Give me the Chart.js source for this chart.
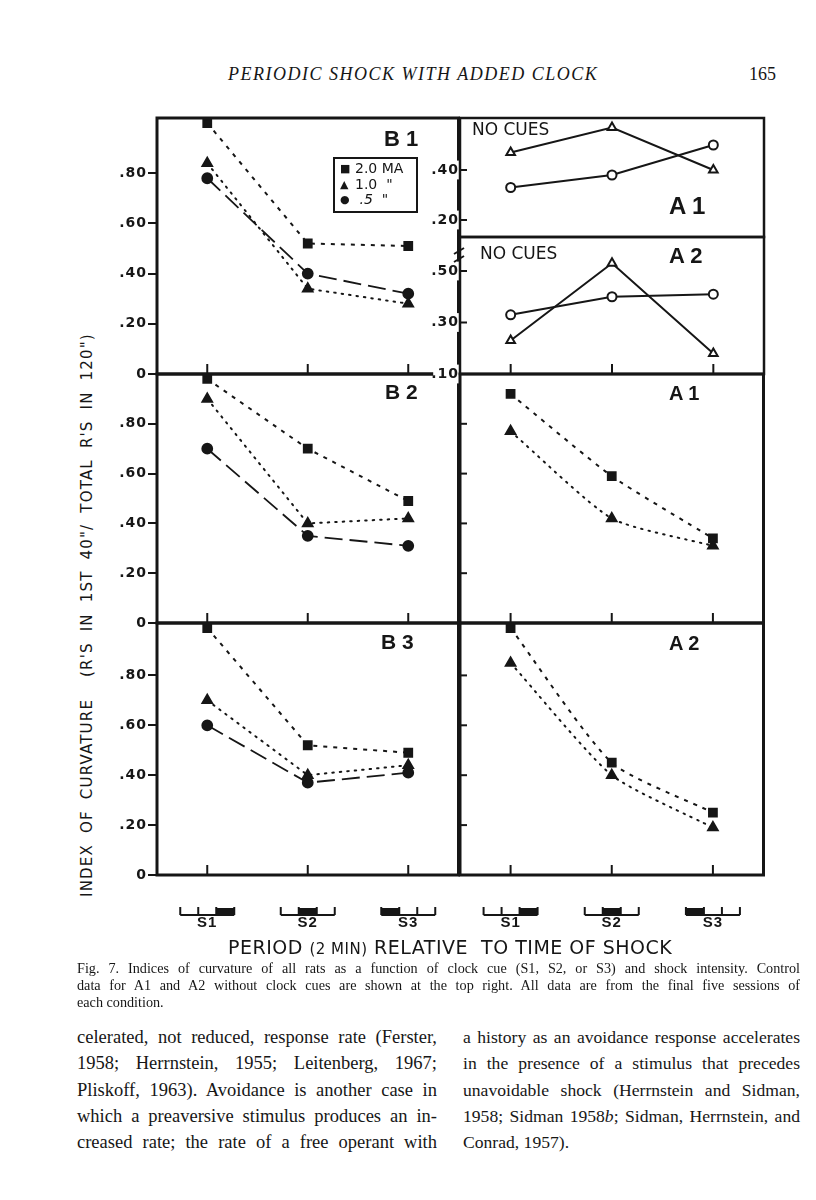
<!DOCTYPE html>
<html>
<head>
<meta charset="utf-8">
<script src="https://cdn.jsdelivr.net/npm/chart.js@4.4.1/dist/chart.umd.min.js"></script>
<style>
  body { margin: 0; width: 816px; height: 1200px; background: #fff; position: relative; overflow: hidden; color: #161616; font-family: 'Liberation Serif', serif; }
  .abs { position: absolute; white-space: nowrap; }
  .pc { position: absolute; }
  .plabel { position: absolute; font-family: 'Liberation Sans', sans-serif; font-weight: bold; line-height: 1; white-space: pre; }
  .nocue { position: absolute; font-family: 'DejaVu Sans', sans-serif; font-size: 17px; line-height: 1; }
  .jl { position: relative; text-align: justify; text-align-last: justify; white-space: nowrap; }
  .jl.last { text-align-last: left; }
  #legend { position: absolute; left: 333px; top: 157px; width: 76px; height: 50px; border: 2px solid #161616;
            font-family: 'DejaVu Sans', sans-serif; font-size: 14px; line-height: 15.5px; padding: 2px 0 0 5px; box-sizing: content-box; }
  #legend div { height: 15.5px; }
  #legend span.s { display: inline-block; width: 15px; font-size: 11px; line-height: 15.5px; vertical-align: top; }
</style>
</head>
<body>

<div class="abs" style="left:228px;top:64px;font-style:italic;font-size:18px;letter-spacing:1.5px">PERIODIC SHOCK WITH ADDED CLOCK</div>
<div class="abs" style="left:749px;top:64px;font-size:18px">165</div>

<script>
const INK = '#161616';

// data
const periods = ['S1', 'S2', 'S3'];
const leftTicks = [0, 0.2, 0.4, 0.6, 0.8];
const cueTicks = [0.2, 0.4, 0.6, 0.8];
const noCueTopTicks = [0.2, 0.4];
const noCueBottomTicks = [0.1, 0.3, 0.5];

// B1, B2, B3 : 2.0 mA (squares), 1.0 mA (triangles), .5 mA (circles)
const b1Ma20 = [1.00, 0.52, 0.51];
const b1Ma10 = [0.84, 0.34, 0.28];
const b1Ma05 = [0.78, 0.40, 0.32];
const b2Ma20 = [0.98, 0.70, 0.49];
const b2Ma10 = [0.90, 0.40, 0.42];
const b2Ma05 = [0.70, 0.35, 0.31];
const b3Ma20 = [0.99, 0.52, 0.49];
const b3Ma10 = [0.70, 0.40, 0.44];
const b3Ma05 = [0.60, 0.37, 0.41];

// A1, A2 with clock cues
const a1Ma20 = [0.92, 0.59, 0.34];
const a1Ma10 = [0.77, 0.42, 0.31];
const a2Ma20 = [0.99, 0.45, 0.25];
const a2Ma10 = [0.85, 0.40, 0.19];

// A1, A2 with no cues (open symbols)
const a1NoCueTri = [0.47, 0.57, 0.40];
const a1NoCueCirc = [0.33, 0.38, 0.50];
const a2NoCueTri = [0.23, 0.53, 0.18];
const a2NoCueCirc = [0.33, 0.40, 0.41];

function fmtTick(v) {
  if (v === 0) return '0';
  return '.' + String(Math.round(v * 100)).padStart(2, '0');
}

function sq(data, tension) {
  return { data, pointStyle: 'rect', pointRadius: 5.5, pointBackgroundColor: INK, pointBorderColor: INK,
    borderColor: INK, borderWidth: 2, borderDash: [4, 6], tension: tension || 0, clip: false };
}
function tri(data, tension) {
  return { data, pointStyle: 'triangle', pointRadius: 5.5, pointBackgroundColor: INK, pointBorderColor: INK,
    borderColor: INK, borderWidth: 2, borderDash: [1.5, 6], borderCapStyle: 'round', tension: tension || 0, clip: false };
}
function circ(data) {
  return { data, pointStyle: 'circle', pointRadius: 5, pointBackgroundColor: INK, pointBorderColor: INK,
    borderColor: INK, borderWidth: 1.8, borderDash: [18, 7], clip: false };
}
function openTri(data) {
  return { data, pointStyle: 'triangle', pointRadius: 5, pointBackgroundColor: '#fff', pointBorderColor: INK,
    pointBorderWidth: 2, borderColor: INK, borderWidth: 2, clip: false };
}
function openCirc(data) {
  return { data, pointStyle: 'circle', pointRadius: 4.5, pointBackgroundColor: '#fff', pointBorderColor: INK,
    pointBorderWidth: 2, borderColor: INK, borderWidth: 2, clip: false };
}

// frame, inward ticks, axis break and the little period diagrams under the x axis
const framePlugin = {
  id: 'frame',
  beforeDraw(chart) {
    chart.ctx.letterSpacing = '1px';   // tick labels are spaced out in the print
  },
  afterDraw(chart, args, opts) {
    const { ctx, chartArea: a, scales } = chart;
    const line = (x1, y1, x2, y2) => { ctx.beginPath(); ctx.moveTo(x1, y1); ctx.lineTo(x2, y2); ctx.stroke(); };
    ctx.save();
    ctx.strokeStyle = INK;
    ctx.fillStyle = INK;
    ctx.lineWidth = opts.lw || 3;
    ctx.strokeRect(a.left, a.top, a.right - a.left, a.bottom - a.top);
    ctx.lineWidth = 2;
    if (opts.xTicks) {
      periods.forEach((p, i) => {
        const x = scales.x.getPixelForValue(i);
        line(x, a.bottom, x, a.bottom - 10);
      });
    }
    if (opts.yIn) {
      opts.yIn.forEach(v => {
        const y = scales.y.getPixelForValue(v);
        line(a.left, y, a.left + 7, y);
      });
    }
    if (opts.brk) {
      line(a.left - 6, a.top + 17, a.left + 4, a.top + 11);
      line(a.left - 6, a.top + 25, a.left + 4, a.top + 19);
    }
    if (opts.glyph) {
      periods.forEach((p, i) => {
        const cx = scales.x.getPixelForValue(i);
        const y0 = a.bottom + 40, half = 27, seg = 18;
        line(cx - half, y0, cx + half, y0);
        for (let k = 0; k < 4; k++) line(cx - half + k * seg, y0, cx - half + k * seg, y0 - 8);
        const s = 2 - i;
        ctx.fillRect(cx - half + s * seg, y0 - 7, seg, 7);
      });
    }
    ctx.restore();
  }
};

function makePanel(p) {
  const left = p.side === 'left';
  const yw = left ? 48 : 34;
  const padT = 10, padR = 6;
  const padB = p.bottomAxis ? 0 : 10;
  const xh = p.bottomAxis ? 62 : 0;
  const [L, T, W, H] = p.rect;
  const w = W + yw + padR, h = H + padT + padB + xh;
  const div = document.createElement('div');
  div.className = 'pc';
  div.style.left = (L - yw) + 'px';
  div.style.top = (T - padT) + 'px';
  const c = document.createElement('canvas');
  c.width = w; c.height = h;
  c.style.width = w + 'px'; c.style.height = h + 'px';
  div.appendChild(c);
  document.body.appendChild(div);

  new Chart(c, {
    type: 'line',
    data: { labels: periods, datasets: p.datasets },
    options: {
      responsive: false,
      animation: false,
      layout: { padding: { top: padT, right: padR, bottom: padB, left: 0 } },
      plugins: {
        legend: { display: false },
        tooltip: { enabled: false },
        frame: p.frame
      },
      scales: {
        x: {
          type: 'category',
          offset: true,
          display: !!p.bottomAxis,
          grid: { display: false, drawTicks: false },
          border: { display: false },
          ticks: { padding: 39, color: INK, maxRotation: 0, font: { family: 'Liberation Sans', weight: 'bold', size: 15 } },
          afterFit(s) { s.height = xh; }
        },
        y: {
          min: p.min,
          max: p.max,
          position: 'left',
          afterFit(s) { s.width = yw; },
          afterBuildTicks(s) { s.ticks = p.ticks.map(v => ({ value: v })); },
          border: { display: false },
          grid: left
            ? { display: true, drawOnChartArea: false, drawTicks: true, tickLength: 9, lineWidth: 2, color: INK }
            : { display: false, drawTicks: false },
          ticks: {
            display: p.labels !== false,
            callback: fmtTick,
            color: INK,
            padding: 1,
            showLabelBackdrop: !left,
            backdropColor: '#fff',
            backdropPadding: 1,
            font: { family: 'DejaVu Sans', weight: 'bold', size: 14 }
          }
        }
      }
    },
    plugins: [framePlugin]
  });
}

// rects: [left, top, width, height] of each plotting box on the page
makePanel({ side: 'left', rect: [157, 118, 303, 256], min: 0, max: 1.02, ticks: leftTicks,
  datasets: [sq(b1Ma20), tri(b1Ma10), circ(b1Ma05)], frame: { xTicks: true } });
makePanel({ side: 'left', rect: [157, 374, 303, 249], min: 0, max: 1.0, ticks: leftTicks,
  datasets: [sq(b2Ma20), tri(b2Ma10), circ(b2Ma05)], frame: { xTicks: true } });
makePanel({ side: 'left', rect: [157, 623, 303, 252], min: 0, max: 1.01, ticks: leftTicks, bottomAxis: true,
  datasets: [sq(b3Ma20), tri(b3Ma10), circ(b3Ma05)], frame: { xTicks: true, glyph: true } });

makePanel({ side: 'right', rect: [460, 118, 305, 119], min: 0.132, max: 0.608, ticks: noCueTopTicks,
  datasets: [openTri(a1NoCueTri), openCirc(a1NoCueCirc)], frame: { lw: 2.5, yIn: noCueTopTicks } });
makePanel({ side: 'right', rect: [460, 237, 305, 137], min: 0.1, max: 0.632, ticks: noCueBottomTicks,
  datasets: [openTri(a2NoCueTri), openCirc(a2NoCueCirc)], frame: { lw: 2.5, yIn: [0.3, 0.5], xTicks: true, brk: true } });
makePanel({ side: 'right', rect: [460, 374, 305, 249], min: 0, max: 1.0, ticks: cueTicks, labels: false,
  datasets: [sq(a1Ma20, 0.2), tri(a1Ma10, 0.2)], frame: { xTicks: true, yIn: cueTicks } });
makePanel({ side: 'right', rect: [460, 623, 305, 252], min: 0, max: 1.01, ticks: cueTicks, labels: false, bottomAxis: true,
  datasets: [sq(a2Ma20, 0.2), tri(a2Ma10, 0.2)], frame: { xTicks: true, yIn: cueTicks, glyph: true } });
</script>

<!-- panel labels and legend -->
<div class="plabel" style="left:384px;top:128px;font-size:22px">B 1</div>
<div class="plabel" style="left:385px;top:381px;font-size:21px">B 2</div>
<div class="plabel" style="left:381px;top:631px;font-size:21px">B 3</div>
<div class="plabel" style="left:669px;top:194px;font-size:24px">A 1</div>
<div class="plabel" style="left:669px;top:245px;font-size:22px">A 2</div>
<div class="plabel" style="left:669px;top:383px;font-size:20px">A 1</div>
<div class="plabel" style="left:669px;top:633px;font-size:20px">A 2</div>
<div class="nocue" style="left:472px;top:121px">NO CUES</div>
<div class="nocue" style="left:480px;top:245px">NO CUES</div>

<div id="legend">
  <div><span class="s">■</span>2.0 MA</div>
  <div><span class="s">▲</span>1.0 &nbsp;"</div>
  <div><span class="s">●</span>&nbsp;<i>.5</i> &nbsp;"</div>
</div>

<!-- axis titles -->
<div class="abs" style="left:-198px;top:606px;width:570px;text-align:center;transform:rotate(-90deg);font-family:'DejaVu Sans',sans-serif;font-size:15px;letter-spacing:1.2px;word-spacing:5px;line-height:18px">INDEX OF CURVATURE &nbsp;(R'S IN 1ST 40"/ TOTAL R'S IN 120")</div>
<div class="abs" style="left:228px;top:937px;font-family:'DejaVu Sans',sans-serif;font-size:19px;line-height:20px;letter-spacing:0.5px">PERIOD <span style="font-size:15px">(2 MIN)</span> RELATIVE &nbsp;TO TIME OF SHOCK</div>

<!-- caption -->
<div style="position:absolute;left:77px;top:960px;width:723px;font-size:14.2px;line-height:17px">
  <div class="jl">Fig. 7. Indices of curvature of all rats as a function of clock cue (S1, S2, or S3) and shock intensity. Control</div>
  <div class="jl">data for A1 and A2 without clock cues are shown at the top right. All data are from the final five sessions of</div>
  <div class="jl last">each condition.</div>
</div>

<!-- body text -->
<div style="position:absolute;left:77px;top:1024px;width:360px;font-size:18.5px;line-height:26.3px">
  <div class="jl">celerated, not reduced, response rate (Ferster,</div>
  <div class="jl">1958; Herrnstein, 1955; Leitenberg, 1967;</div>
  <div class="jl">Pliskoff, 1963). Avoidance is another case in</div>
  <div class="jl">which a preaversive stimulus produces an in-</div>
  <div class="jl">creased rate; the rate of a free operant with</div>
</div>
<div style="position:absolute;left:463px;top:1024px;width:337px;font-size:17.6px;line-height:26.3px">
  <div class="jl">a history as an avoidance response accelerates</div>
  <div class="jl">in the presence of a stimulus that precedes</div>
  <div class="jl">unavoidable shock (Herrnstein and Sidman,</div>
  <div class="jl">1958; Sidman 1958<i>b</i>; Sidman, Herrnstein, and</div>
  <div class="jl last">Conrad, 1957).</div>
</div>

</body>
</html>
